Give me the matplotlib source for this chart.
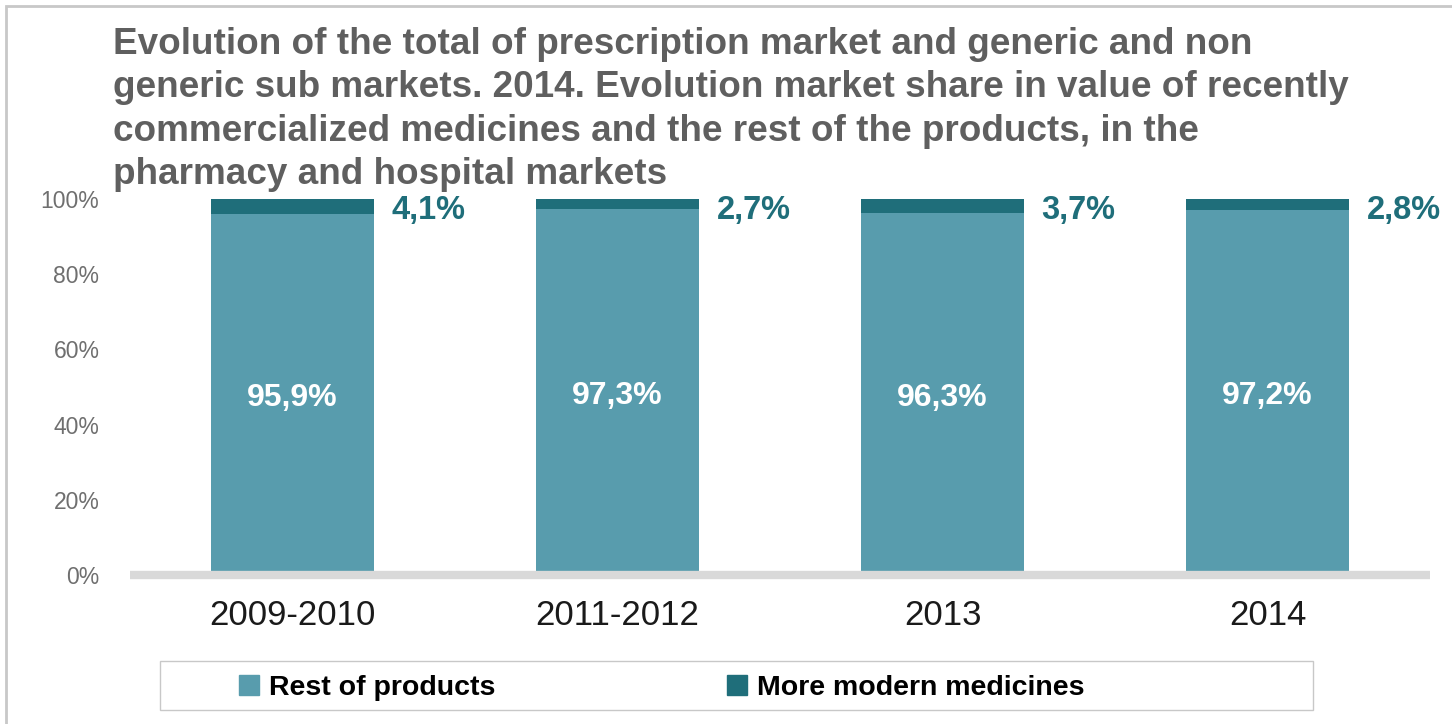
import matplotlib.pyplot as plt
from matplotlib.patches import Rectangle, Patch

plt.rcParams['font.family'] = ['Liberation Sans', 'DejaVu Sans']

categories = ['2009-2010', '2011-2012', '2013', '2014']
rest = [95.9, 97.3, 96.3, 97.2]
modern = [4.1, 2.7, 3.7, 2.8]
rest_labels = ['95,9%', '97,3%', '96,3%', '97,2%']
modern_labels = ['4,1%', '2,7%', '3,7%', '2,8%']
yticks = [0, 20, 40, 60, 80, 100]

light = '#589CAD'
dark = '#1F6E7A'

W, H = 1452, 724
fig = plt.figure(figsize=(W / 100, H / 100), dpi=100)

# outer frame
fig.patches.append(Rectangle((6 / W, -0.1), 1.2, (H - 6) / H + 0.1, transform=fig.transFigure,
                             fill=False, edgecolor='#C8C8C8', linewidth=2))

ax = fig.add_axes([130 / W, (H - 575) / H, 1300 / W, 376 / H])
x = list(range(len(categories)))
ax.bar(x, rest, width=0.5, color=light)
ax.bar(x, modern, width=0.5, bottom=rest, color=dark)

for i in x:
    ax.text(i, rest[i] / 2 - 1, rest_labels[i], ha='center', va='center', color='white',
            fontsize=23, fontweight='bold')
    ax.text(i + 0.305, 97.0, modern_labels[i], ha='left', va='center', color=dark,
            fontsize=23.5, fontweight='bold')

ax.set_xlim(-0.5, 3.5)
ax.set_ylim(0, 100)
ax.set_yticks(yticks)
ax.set_yticklabels([f'{v}%' for v in yticks], color='#6F6F6F', fontsize=16.5)
ax.set_xticks(x)
ax.set_xticklabels(categories, fontsize=25, color='#1A1A1A')
ax.tick_params(axis='both', length=0)
ax.tick_params(axis='y', pad=22)
ax.tick_params(axis='x', pad=17)
for s in ['top', 'right', 'left']:
    ax.spines[s].set_visible(False)
ax.spines['bottom'].set_color('#D9D9D9')
ax.spines['bottom'].set_linewidth(6)
ax.spines['bottom'].set_capstyle('butt')

fig.text(113 / W, 1 - 27 / H,
         'Evolution of the total of prescription market and generic and non\n'
         'generic sub markets. 2014. Evolution market share in value of recently\n'
         'commercialized medicines and the rest of the products, in the\n'
         'pharmacy and hospital markets',
         ha='left', va='top', fontsize=26.6, fontweight='bold', color='#5F5F5F',
         linespacing=1.31)

# legend box
fig.patches.append(Rectangle((160 / W, (H - 710) / H), 1153 / W, 49 / H, transform=fig.transFigure,
                             fill=False, edgecolor='#C8C8C8', linewidth=1))
handles = [Patch(color=light), Patch(color=dark)]
fig.legend(handles, ['Rest of products', 'More modern medicines'],
           loc='center left', bbox_to_anchor=(213 / W, (H - 688) / H),
           ncol=2, frameon=False, columnspacing=8.15, handlelength=0.7, handleheight=0.7,
           handletextpad=0.35, prop={'weight': 'bold', 'size': 20.5})

fig.savefig('out.png', dpi=100)
